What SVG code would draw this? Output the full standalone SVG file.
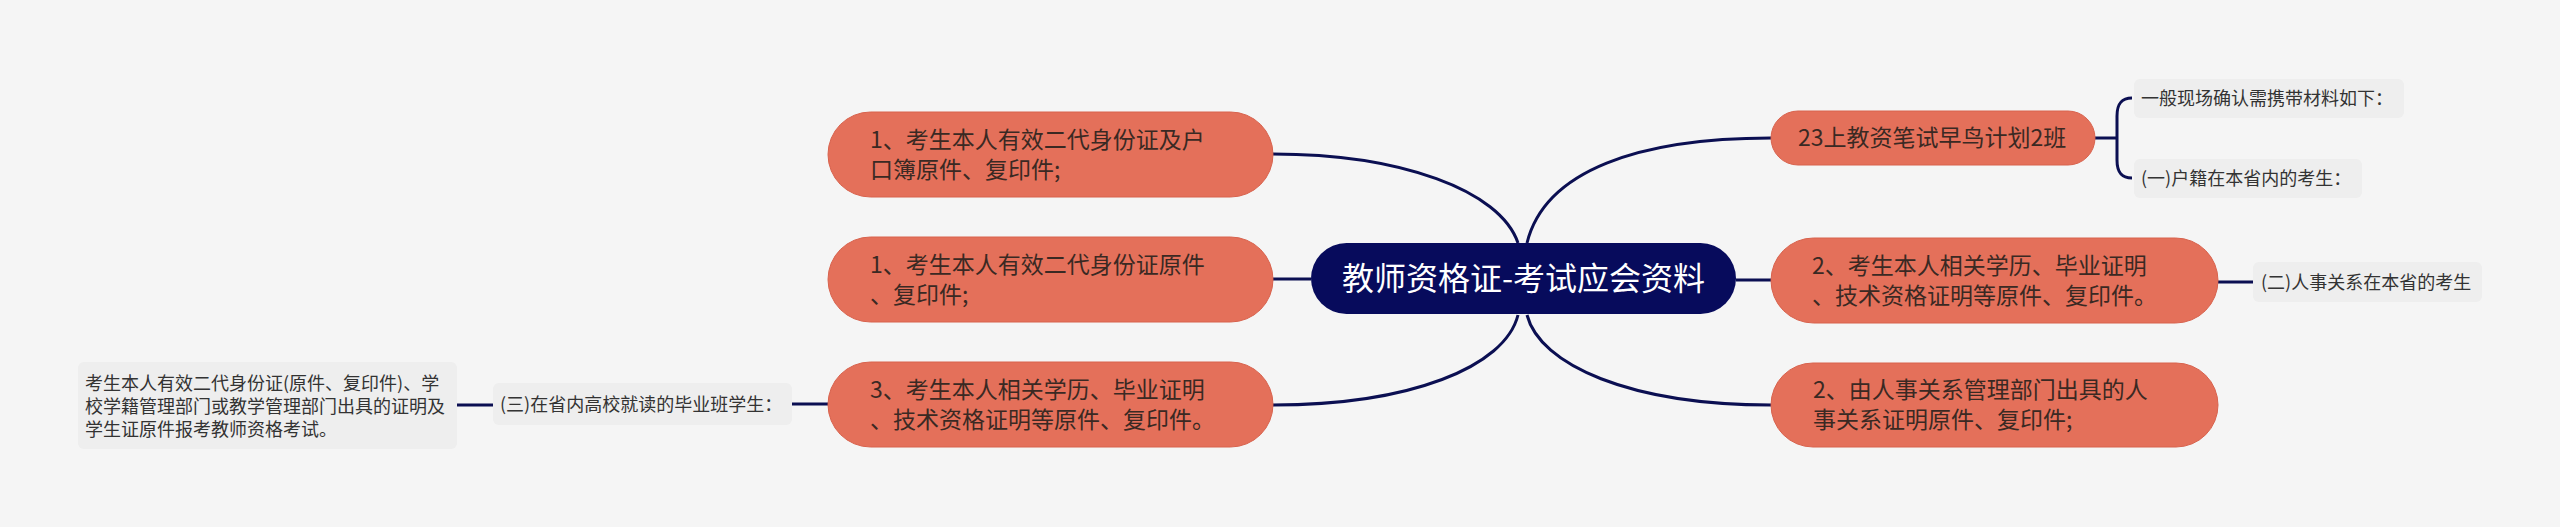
<svg xmlns="http://www.w3.org/2000/svg" width="2560" height="527" viewBox="0 0 2560 527">
<style>
text{font-family:"Noto Sans CJK SC","Noto Sans",sans-serif}
.n rect{fill:#e4705a;stroke:#d8624d;stroke-width:1}
.n text{font-size:23px;fill:#3a2923}
.l rect{fill:#eeeeee}
.l text{font-size:18px;fill:#333333}
.c path{fill:none;stroke:#0b0f52;stroke-width:3}
</style>
<rect width="2560" height="527" fill="#f5f5f5"/>
<g class="c" id="connectors">
<path d="M1273,154 C1400,154 1500,190 1518,243"/>
<path d="M1273,279 L1311,279"/>
<path d="M1518,315 C1505,367 1410,405 1273,405"/>
<path d="M1527,243 C1545,170 1640,138 1771,138"/>
<path d="M1736,280 L1771,280"/>
<path d="M1527,315 C1540,365 1630,405 1771,405"/>
<path d="M2095,138 L2117,138"/>
<path d="M2132,98 C2121,98 2117,104 2117,116 L2117,160 C2117,172 2121,178 2132,178"/>
<path d="M2218,282 L2253,282"/>
<path d="M792,404 L828,404"/>
<path d="M457,405 L493,405"/>
</g>
<g id="center">
<rect x="1311" y="243" width="425" height="71" rx="35.5" fill="#070b5c"/>
<text x="1523.5" y="290" font-size="32" fill="#ffffff" text-anchor="middle">教师资格证-考试应会资料</text>
</g>
<g class="n" id="L1">
<rect x="828" y="112" width="445" height="85" rx="42.5"/>
<text x="870" y="147.5">1、考生本人有效二代身份证及户</text>
<text x="870" y="177.5">口簿原件、复印件;</text>
</g>
<g class="n" id="L2">
<rect x="828" y="237" width="445" height="85" rx="42.5"/>
<text x="870" y="272.5">1、考生本人有效二代身份证原件</text>
<text x="870" y="302.5">、复印件;</text>
</g>
<g class="n" id="L3">
<rect x="828" y="362" width="445" height="85" rx="42.5"/>
<text x="870" y="397.5">3、考生本人相关学历、毕业证明</text>
<text x="870" y="427.5">、技术资格证明等原件、复印件。</text>
</g>
<g class="l" id="L3a">
<rect x="493" y="383" width="299" height="42" rx="6"/>
<text x="500" y="410.5">(三)在省内高校就读的毕业班学生：</text>
</g>
<g class="l" id="L3b">
<rect x="78" y="362" width="379" height="87" rx="6"/>
<text x="85" y="389.5">考生本人有效二代身份证(原件、复印件)、学</text>
<text x="85" y="412.5">校学籍管理部门或教学管理部门出具的证明及</text>
<text x="85" y="435.5">学生证原件报考教师资格考试。</text>
</g>
<g class="n" id="R1">
<rect x="1771" y="111" width="324" height="54" rx="27"/>
<text x="1798" y="146">23上教资笔试早鸟计划2班</text>
</g>
<g class="l" id="R1a">
<rect x="2134" y="79" width="270" height="39" rx="6"/>
<text x="2141" y="104.5">一般现场确认需携带材料如下：</text>
</g>
<g class="l" id="R1b">
<rect x="2134" y="159" width="228" height="39" rx="6"/>
<text x="2141" y="184.5">(一)户籍在本省内的考生：</text>
</g>
<g class="n" id="R2">
<rect x="1771" y="238" width="447" height="85" rx="42.5"/>
<text x="1812" y="273.5">2、考生本人相关学历、毕业证明</text>
<text x="1812" y="303.5">、技术资格证明等原件、复印件。</text>
</g>
<g class="l" id="R2a">
<rect x="2253" y="262" width="229" height="40" rx="6"/>
<text x="2261" y="288.5">(二)人事关系在本省的考生</text>
</g>
<g class="n" id="R3">
<rect x="1771" y="363" width="447" height="84" rx="42"/>
<text x="1813" y="398">2、由人事关系管理部门出具的人</text>
<text x="1813" y="428">事关系证明原件、复印件;</text>
</g>
</svg>
